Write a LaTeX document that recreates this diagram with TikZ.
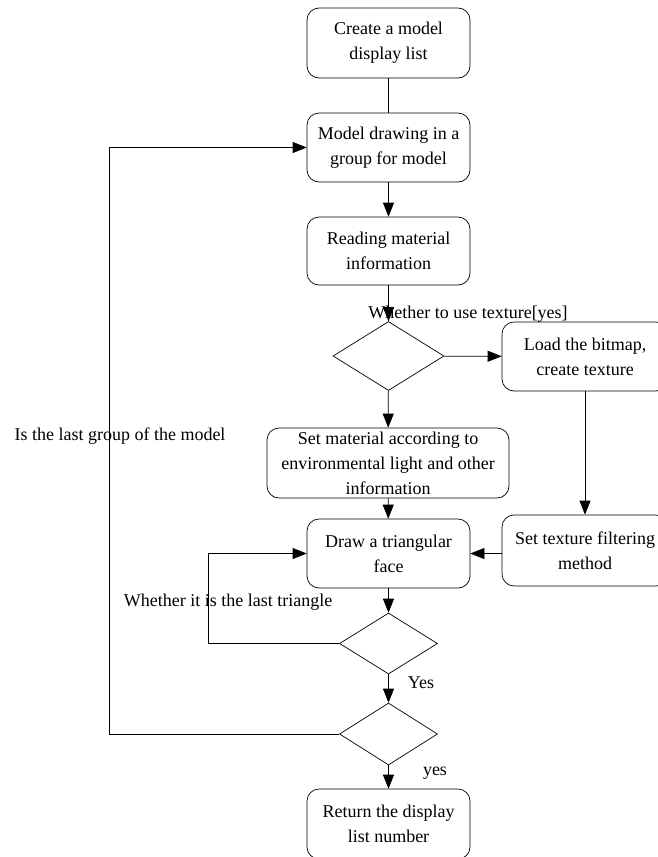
\documentclass[tikz,border=0pt]{standalone}
\usepackage{fontspec}
\setmainfont{Liberation Serif}
\usetikzlibrary{arrows.meta,shapes.geometric}
\begin{document}
\begin{tikzpicture}[x=1pt,y=-1pt,
  every node/.style={font=\fontsize{18}{25}\selectfont},
  box/.style={draw,rounded corners=12pt,align=center,inner sep=0pt,line width=0.7pt},
  dec/.style={draw,diamond,inner sep=0pt,line width=0.7pt},
  lbl/.style={anchor=base,inner sep=0pt},
  arr/.style={-{Triangle[length=14pt,width=11pt]},line width=0.7pt},
  ln/.style={line width=0.7pt}]
\useasboundingbox (0,0) rectangle (658,857);
\node[box,minimum width=163pt,minimum height=70pt] (b1) at (388.5,43) {Create a model\\display list};
\node[box,minimum width=163pt,minimum height=69pt] (b2) at (388.5,147.5) {Model drawing in a\\group for model};
\node[box,minimum width=163pt,minimum height=68pt] (b3) at (388.5,251) {Reading material\\information};
\node[dec,minimum width=111pt,minimum height=69pt] (d1) at (388.5,356) {};
\node[box,minimum width=166pt,minimum height=69pt] (load) at (585,356.5) {Load the bitmap,\\create texture};
\node[box,minimum width=242pt,minimum height=70pt] (mat) at (388,463) {Set material according to\\environmental light and other\\information};
\node[box,minimum width=166pt,minimum height=71pt] (filt) at (585,550.5) {Set texture filtering\\method};
\node[box,minimum width=163pt,minimum height=69pt] (tri) at (388.5,553.5) {Draw a triangular\\face};
\node[dec,minimum width=98pt,minimum height=61pt] (d2) at (388.5,643.5) {};
\node[dec,minimum width=98pt,minimum height=62pt] (d3) at (388.5,734) {};
\node[box,minimum width=163pt,minimum height=70pt] (ret) at (388.5,824) {Return the display\\list number};
\coordinate (c1) at (208,643.5);
\coordinate (c2) at (208,553.5);
\coordinate (c3) at (109,734);
\coordinate (c4) at (109,147.5);
\draw[ln] (b1) -- (b2);
\draw[arr] (b2) -- (b3);
\draw[arr] (b3) -- (d1);
\draw[arr] (d1) -- (load);
\draw[arr] (d1) -- (mat);
\draw[arr] (load) -- (filt);
\draw[arr] (mat) -- (tri);
\draw[arr] (tri.east -| filt.west) -- (tri.east);
\draw[arr] (tri) -- (d2);
\draw[arr] (d2.west) -- (c1) -- (c2) -- (tri.west);
\draw[arr] (d2) -- (d3);
\draw[arr] (d3.west) -- (c3) -- (c4) -- (b2.west);
\draw[arr] (d3) -- (ret);
\node[lbl] (t1) at (468,318) {Whether to use texture[yes]};
\node[lbl] (t2) at (228,606) {Whether it is the last triangle};
\node[lbl] (t3) at (120,440) {Is the last group of the model};
\node[lbl] (t4) at (421,688) {Yes};
\node[lbl] (t5) at (435,775) {yes};
\end{tikzpicture}
\end{document}
